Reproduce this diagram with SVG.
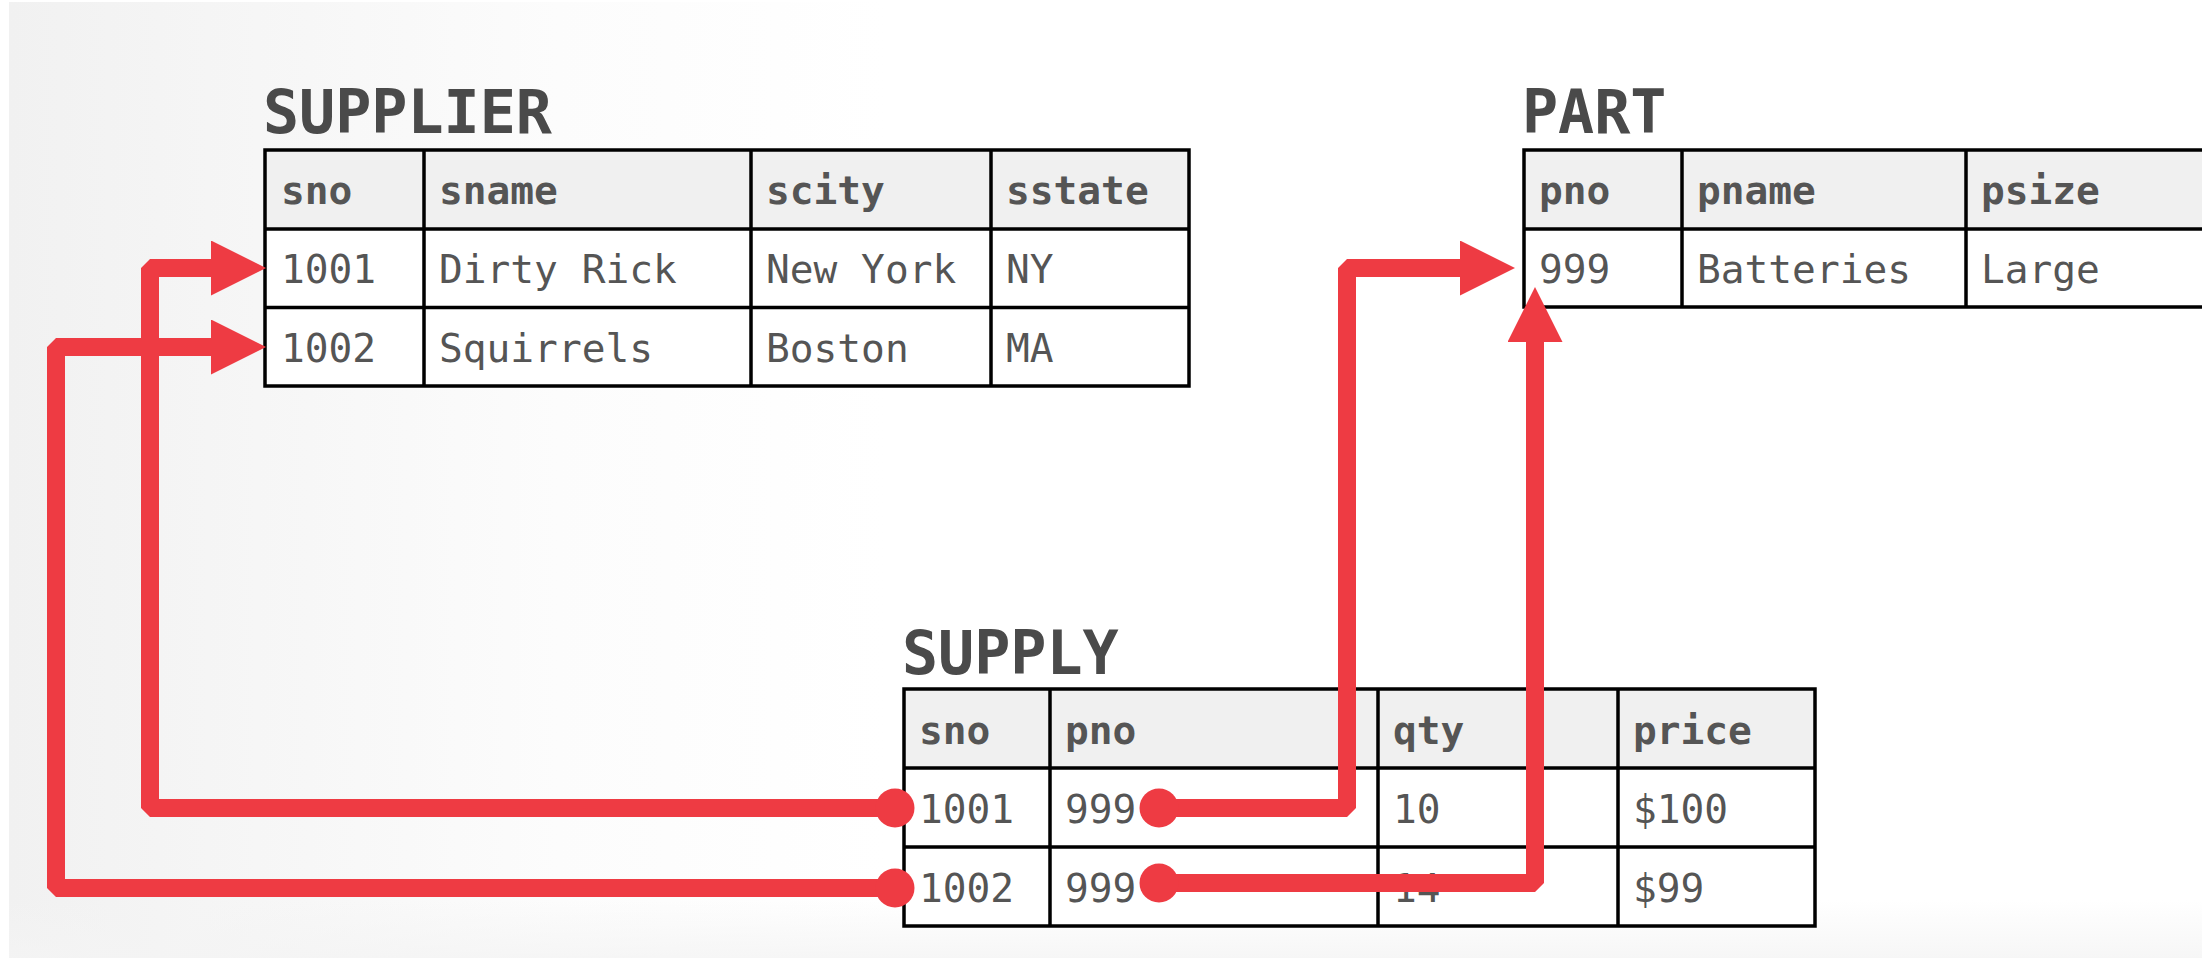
<svg xmlns="http://www.w3.org/2000/svg" width="2202" height="958" viewBox="0 0 2202 958">
<style>
.title{font-family:"DejaVu Sans Mono","Liberation Mono",monospace;font-weight:bold;font-size:60px;fill:#4a4a4a}
.hd{font-family:"DejaVu Sans Mono","Liberation Mono",monospace;font-weight:bold;font-size:39.5px;fill:#555}
.td{font-family:"DejaVu Sans Mono","Liberation Mono",monospace;font-size:39.5px;fill:#555}
.hfill{fill:#f0f0f0}
.rfill{fill:#ffffff}
.grid{stroke:#000;stroke-width:3.5;fill:none}
.conn{stroke:#ee3b43;stroke-width:18;fill:none;stroke-linejoin:bevel}
</style>
<defs>
<linearGradient id="bgx" x1="0" y1="0" x2="1" y2="0">
<stop offset="0" stop-color="#f1f1f1"/>
<stop offset="0.25" stop-color="#fcfcfc"/>
<stop offset="0.4" stop-color="#ffffff"/>
<stop offset="1" stop-color="#ffffff"/>
</linearGradient>
<linearGradient id="bgy" x1="0" y1="0" x2="0" y2="1">
<stop offset="0" stop-color="#f4f4f4" stop-opacity="0"/>
<stop offset="1" stop-color="#f4f4f4" stop-opacity="0.8"/>
</linearGradient>
<marker id="arrow" markerUnits="userSpaceOnUse" viewBox="0 0 56 56" markerWidth="56" markerHeight="56" refX="0" refY="27.5" orient="auto">
<path d="M0,0 L55,27.5 L0,55 z" fill="#ee3b43"/>
</marker>
<marker id="dot" markerUnits="userSpaceOnUse" viewBox="-20 -20 40 40" markerWidth="40" markerHeight="40" refX="0" refY="0" orient="auto">
<circle cx="0" cy="0" r="19.5" fill="#ee3b43"/>
</marker>
</defs>
<rect x="0" y="0" width="2202" height="958" fill="#ffffff"/>
<rect x="9" y="2" width="2193" height="956" fill="url(#bgx)"/>
<rect x="9" y="900" width="2193" height="58" fill="url(#bgy)"/>

<g id="supplier">
<text class="title" x="263" y="133">SUPPLIER</text>
<rect class="hfill" x="265" y="150" width="924" height="79"/>
<rect class="rfill" x="265" y="229" width="924" height="157"/>
<rect class="grid" x="265" y="150" width="924" height="236"/>
<path class="grid" d="M265 229 H1189 M265 307.5 H1189 M424 150 V386 M751 150 V386 M991 150 V386"/>
<text class="hd" x="281" y="204">sno</text>
<text class="hd" x="439" y="204">sname</text>
<text class="hd" x="766" y="204">scity</text>
<text class="hd" x="1006" y="204">sstate</text>
<text class="td" x="281" y="283">1001</text>
<text class="td" x="439" y="283">Dirty Rick</text>
<text class="td" x="766" y="283">New York</text>
<text class="td" x="1006" y="283">NY</text>
<text class="td" x="281" y="362">1002</text>
<text class="td" x="439" y="362">Squirrels</text>
<text class="td" x="766" y="362">Boston</text>
<text class="td" x="1006" y="362">MA</text>
</g>

<g id="part">
<text class="title" x="1522" y="133">PART</text>
<rect class="hfill" x="1524" y="150" width="720" height="79"/>
<rect class="rfill" x="1524" y="229" width="720" height="78"/>
<rect class="grid" x="1524" y="150" width="720" height="157"/>
<path class="grid" d="M1524 229 H2244 M1682 150 V307 M1966 150 V307"/>
<text class="hd" x="1539" y="204">pno</text>
<text class="hd" x="1697" y="204">pname</text>
<text class="hd" x="1981" y="204">psize</text>
<text class="td" x="1539" y="283">999</text>
<text class="td" x="1697" y="283">Batteries</text>
<text class="td" x="1981" y="283">Large</text>
</g>

<g id="supply">
<text class="title" x="902" y="674">SUPPLY</text>
<rect class="hfill" x="904" y="689" width="911" height="79"/>
<rect class="rfill" x="904" y="768" width="911" height="158"/>
<rect class="grid" x="904" y="689" width="911" height="237"/>
<path class="grid" d="M904 768 H1815 M904 847 H1815 M1050 689 V926 M1378 689 V926 M1618 689 V926"/>
<text class="hd" x="919" y="744">sno</text>
<text class="hd" x="1065" y="744">pno</text>
<text class="hd" x="1393" y="744">qty</text>
<text class="hd" x="1633" y="744">price</text>
<text class="td" x="919" y="823">1001</text>
<text class="td" x="1065" y="823">999</text>
<text class="td" x="1393" y="823">10</text>
<text class="td" x="1633" y="823">$100</text>
<text class="td" x="919" y="902">1002</text>
<text class="td" x="1065" y="902">999</text>
<text class="td" x="1393" y="902">14</text>
<text class="td" x="1633" y="902">$99</text>
</g>

<g id="connectors">
<path class="conn" d="M895 808 H150 V268 H211" marker-start="url(#dot)" marker-end="url(#arrow)"/>
<path class="conn" d="M895 888 H56 V347 H211" marker-start="url(#dot)" marker-end="url(#arrow)"/>
<path class="conn" d="M1159 808 H1347 V268 H1460" marker-start="url(#dot)" marker-end="url(#arrow)"/>
<path class="conn" d="M1159 883 H1535 V342" marker-start="url(#dot)" marker-end="url(#arrow)"/>
</g>
</svg>
